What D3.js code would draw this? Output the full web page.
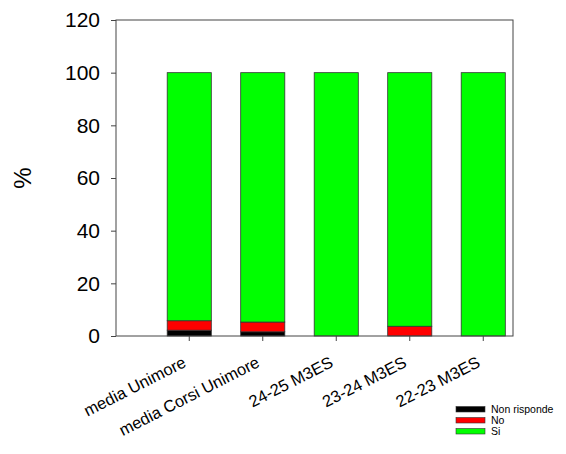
<!DOCTYPE html>
<html>
<head>
<meta charset="utf-8">
<script src="https://cdn.jsdelivr.net/npm/d3@7"></script>
<style>
  html, body { margin: 0; padding: 0; background: #fff; }
  svg { display: block; font-family: "Liberation Sans", Arial, sans-serif; }
</style>
</head>
<body>
<svg id="chart" width="566" height="454"></svg>
<script>
const categories = ["media Unimore", "media Corsi Unimore", "24-25 M3ES", "23-24 M3ES", "22-23 M3ES"];
const nonRisponde = [2.2, 1.6, 0, 0, 0];
const no = [3.6, 3.7, 0, 3.7, 0];
const si = [94.2, 94.7, 100, 96.3, 100];
const seriesNames = ["Non risponde", "No", "Si"];
const seriesColors = ["#000000", "#ff0000", "#00ff00"];
const yTicks = [0, 20, 40, 60, 80, 100, 120];

const svg = d3.select("#chart");
const frame = { left: 116, right: 513, top: 20, bottom: 336 };

const rows = categories.map((c, i) => ({ cat: c, "Non risponde": nonRisponde[i], "No": no[i], "Si": si[i] }));
const stacked = d3.stack().keys(seriesNames)(rows);

const x = d3.scaleBand().domain(categories).range([152.5, 520]).paddingInner(0.4).paddingOuter(0.2);
const y = d3.scaleLinear().domain([0, 120]).range([frame.bottom, frame.top]);

// bars
const g = svg.append("g");
stacked.forEach((layer, li) => {
  g.selectAll(null).data(layer).enter().append("rect")
    .attr("x", d => x(d.data.cat))
    .attr("width", x.bandwidth())
    .attr("y", d => y(d[1]))
    .attr("height", d => y(d[0]) - y(d[1]))
    .attr("fill", seriesColors[li])
    .attr("stroke", d => (d[1] - d[0]) > 0 ? "#333" : "none")
    .attr("stroke-width", 0.8);
});

// frame
svg.append("rect")
  .attr("x", frame.left).attr("y", frame.top)
  .attr("width", frame.right - frame.left).attr("height", frame.bottom - frame.top)
  .attr("fill", "none").attr("stroke", "#444").attr("stroke-width", 1);

// y axis
const yAxis = svg.append("g").attr("transform", `translate(${frame.left},0)`)
  .call(d3.axisLeft(y).tickValues(yTicks).tickSize(5).tickPadding(11));
yAxis.select(".domain").remove();
yAxis.selectAll(".tick line").attr("stroke", "#444");
yAxis.selectAll(".tick text").attr("font-size", 21).attr("fill", "#000")
  .attr("font-family", "Liberation Sans, Arial, sans-serif");

// x axis (ticks only, labels drawn rotated below)
const xAxis = svg.append("g").attr("transform", `translate(0,${frame.bottom})`)
  .call(d3.axisBottom(x).tickSize(5).tickFormat(""));
xAxis.select(".domain").remove();
xAxis.selectAll(".tick line").attr("stroke", "#444");

const xc = d => x(d) + x.bandwidth() / 2;
svg.append("g").selectAll("g.xl").data(categories).enter()
  .append("g").attr("class", "xl")
  .attr("transform", d => `translate(${xc(d) - 2},${frame.bottom + 30}) rotate(-27)`)
  .append("text")
  .attr("text-anchor", "end")
  .attr("font-size", 16.5)
  .attr("fill", "#000")
  .text(d => d);

// y axis title
svg.append("text")
  .attr("transform", "translate(31,178) rotate(-90)")
  .attr("text-anchor", "middle")
  .attr("font-size", 24)
  .text("%");

// legend
const legend = svg.append("g");
seriesNames.forEach((name, i) => {
  const ly = 406.5 + i * 11;
  legend.append("rect").attr("x", 456).attr("y", ly).attr("width", 29).attr("height", 5.5)
    .attr("fill", seriesColors[i]).attr("stroke", "#333").attr("stroke-width", 0.6);
  legend.append("text").attr("x", 491).attr("y", ly + 6.5)
    .attr("font-size", 10.5).text(name);
});
</script>
</body>
</html>
